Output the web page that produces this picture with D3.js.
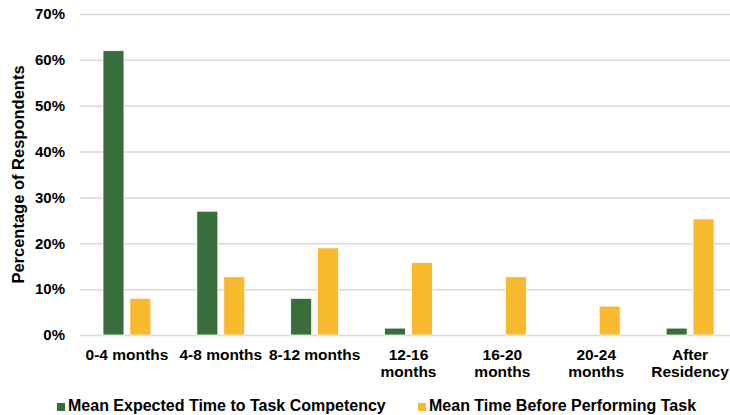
<!DOCTYPE html>
<html>
<head>
<meta charset="utf-8">
<script src="https://cdn.jsdelivr.net/npm/d3@7"></script>
<style>
  html, body { margin: 0; padding: 0; background: #fff; }
  svg { display: block; font-family: "Liberation Sans", Arial, sans-serif; font-weight: bold; }
</style>
</head>
<body>
<svg id="chart" width="730" height="415"></svg>
<script>
const categories = [["0-4 months"], ["4-8 months"], ["8-12 months"], ["12-16", "months"], ["16-20", "months"], ["20-24", "months"], ["After", "Residency"]];
const seriesNames = ["Mean Expected Time to Task Competency", "Mean Time Before Performing Task"];
const competency = [0.62, 0.27, 0.08, 0.015, 0, 0, 0.015];
const performing = [0.08, 0.127, 0.19, 0.158, 0.127, 0.063, 0.253];
const yTicks = [0, 0.1, 0.2, 0.3, 0.4, 0.5, 0.6, 0.7];
const colors = ["#376e3c", "#f8b92d"];

const svg = d3.select("#chart");
const plotLeft = 80, plotRight = 737, plotTop = 14, plotBottom = 335;

const x = d3.scaleBand().domain(d3.range(categories.length)).range([plotLeft, plotRight])
  .paddingInner(0.49).paddingOuter(0.245);
const xs = d3.scaleBand().domain([0, 1]).range([0, x.bandwidth()]).paddingInner(0.22);
const y = d3.scaleLinear().domain([0, 0.7]).range([plotBottom, plotTop]);

// gridlines
const yAxis = d3.axisLeft(y).tickValues(yTicks).tickFormat(d3.format(".0%"))
  .tickSize(-(730 - plotLeft)).tickPadding(15);
const gy = svg.append("g").attr("transform", `translate(${plotLeft},0)`).call(yAxis);
gy.select(".domain").remove();
gy.selectAll(".tick line").attr("stroke", "#d9d9d9").attr("stroke-width", 1.5);
gy.selectAll(".tick text").attr("fill", "#000").style("font-size", "15px").style("font-weight", "bold")
  .style("font-family", "'Liberation Sans', Arial, sans-serif");

// bars
const series = [competency, performing];
series.forEach((vals, si) => {
  svg.append("g").selectAll("rect").data(vals).join("rect")
    .attr("x", (d, i) => x(i) + xs(si))
    .attr("y", d => y(d))
    .attr("width", xs.bandwidth())
    .attr("height", d => Math.max(0, y(0) - y(d)))
    .attr("fill", colors[si])
    .attr("stroke", d => d > 0 ? "#ffffff" : "none")
    .attr("stroke-width", 0.8);
});

// x labels
const xl = svg.append("g");
categories.forEach((lines, i) => {
  const t = xl.append("text").attr("text-anchor", "middle")
    .attr("x", x(i) + x.bandwidth() / 2).attr("y", 360)
    .style("font-size", "15.5px").attr("fill", "#000");
  lines.forEach((l, j) => {
    t.append("tspan").attr("x", x(i) + x.bandwidth() / 2).attr("y", 360 + j * 16.5).text(l);
  });
});

// y title
svg.append("text").attr("transform", `translate(24,${(plotTop + plotBottom) / 2}) rotate(-90)`)
  .attr("text-anchor", "middle").style("font-size", "16.5px").attr("fill", "#000")
  .text("Percentage of Respondents");

// legend
const legendX = [57, 418];
seriesNames.forEach((n, i) => {
  svg.append("rect").attr("x", legendX[i]).attr("y", 403).attr("width", 8).attr("height", 8).attr("fill", colors[i]);
  svg.append("text").attr("x", legendX[i] + 11).attr("y", 411).style("font-size", "16px").attr("fill", "#000").text(n);
});
</script>
</body>
</html>
